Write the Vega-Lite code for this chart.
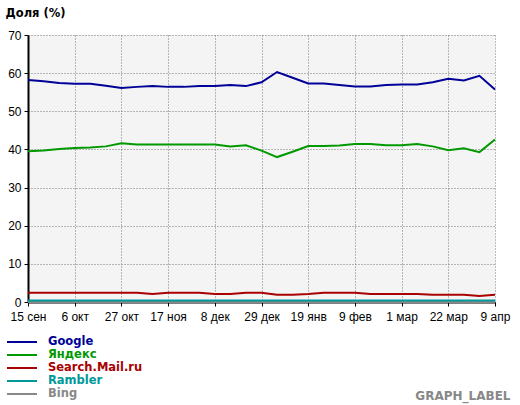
{
  "$schema": "https://vega.github.io/schema/vega-lite/v6.json",
  "width": 467,
  "height": 267,
  "autosize": "none",
  "padding": {"left": 28, "top": 35, "right": 25, "bottom": 103},
  "background": "white",
  "config": {
    "view": {"fill": "#f4f4f4", "stroke": null},
    "font": "Liberation Sans"
  },
  "data": {
    "values": [
      {"w": "15 сен", "Google": 58.2, "Yandex": 39.5, "Mail": 2.4, "Rambler": 0.4, "Bing": 0.0},
      {"w": "22 сен", "Google": 57.9, "Yandex": 39.7, "Mail": 2.4, "Rambler": 0.4, "Bing": 0.0},
      {"w": "29 сен", "Google": 57.4, "Yandex": 40.1, "Mail": 2.4, "Rambler": 0.4, "Bing": 0.0},
      {"w": "6 окт", "Google": 57.2, "Yandex": 40.4, "Mail": 2.4, "Rambler": 0.4, "Bing": 0.0},
      {"w": "13 окт", "Google": 57.2, "Yandex": 40.5, "Mail": 2.4, "Rambler": 0.4, "Bing": 0.0},
      {"w": "20 окт", "Google": 56.7, "Yandex": 40.8, "Mail": 2.4, "Rambler": 0.4, "Bing": 0.0},
      {"w": "27 окт", "Google": 56.1, "Yandex": 41.6, "Mail": 2.4, "Rambler": 0.4, "Bing": 0.0},
      {"w": "3 ноя", "Google": 56.4, "Yandex": 41.3, "Mail": 2.4, "Rambler": 0.4, "Bing": 0.0},
      {"w": "10 ноя", "Google": 56.6, "Yandex": 41.3, "Mail": 2.1, "Rambler": 0.4, "Bing": 0.0},
      {"w": "17 ноя", "Google": 56.4, "Yandex": 41.3, "Mail": 2.4, "Rambler": 0.4, "Bing": 0.0},
      {"w": "24 ноя", "Google": 56.4, "Yandex": 41.3, "Mail": 2.4, "Rambler": 0.4, "Bing": 0.0},
      {"w": "1 дек", "Google": 56.6, "Yandex": 41.3, "Mail": 2.4, "Rambler": 0.4, "Bing": 0.0},
      {"w": "8 дек", "Google": 56.6, "Yandex": 41.3, "Mail": 2.1, "Rambler": 0.4, "Bing": 0.0},
      {"w": "15 дек", "Google": 56.9, "Yandex": 40.8, "Mail": 2.1, "Rambler": 0.4, "Bing": 0.0},
      {"w": "22 дек", "Google": 56.6, "Yandex": 41.1, "Mail": 2.4, "Rambler": 0.4, "Bing": 0.0},
      {"w": "29 дек", "Google": 57.6, "Yandex": 39.7, "Mail": 2.4, "Rambler": 0.4, "Bing": 0.0},
      {"w": "5 янв", "Google": 60.3, "Yandex": 38.0, "Mail": 1.9, "Rambler": 0.4, "Bing": 0.0},
      {"w": "12 янв", "Google": 58.8, "Yandex": 39.4, "Mail": 1.9, "Rambler": 0.4, "Bing": 0.0},
      {"w": "19 янв", "Google": 57.3, "Yandex": 40.9, "Mail": 2.1, "Rambler": 0.4, "Bing": 0.0},
      {"w": "26 янв", "Google": 57.3, "Yandex": 40.9, "Mail": 2.4, "Rambler": 0.4, "Bing": 0.0},
      {"w": "2 фев", "Google": 56.9, "Yandex": 41.0, "Mail": 2.4, "Rambler": 0.4, "Bing": 0.0},
      {"w": "9 фев", "Google": 56.5, "Yandex": 41.4, "Mail": 2.4, "Rambler": 0.4, "Bing": 0.0},
      {"w": "16 фев", "Google": 56.5, "Yandex": 41.4, "Mail": 2.1, "Rambler": 0.4, "Bing": 0.0},
      {"w": "23 фев", "Google": 56.9, "Yandex": 41.1, "Mail": 2.1, "Rambler": 0.4, "Bing": 0.0},
      {"w": "1 мар", "Google": 57.0, "Yandex": 41.1, "Mail": 2.1, "Rambler": 0.4, "Bing": 0.0},
      {"w": "8 мар", "Google": 57.0, "Yandex": 41.4, "Mail": 2.1, "Rambler": 0.4, "Bing": 0.0},
      {"w": "15 мар", "Google": 57.6, "Yandex": 40.8, "Mail": 1.9, "Rambler": 0.4, "Bing": 0.0},
      {"w": "22 мар", "Google": 58.5, "Yandex": 39.8, "Mail": 1.9, "Rambler": 0.4, "Bing": 0.0},
      {"w": "29 мар", "Google": 58.1, "Yandex": 40.3, "Mail": 1.9, "Rambler": 0.4, "Bing": 0.0},
      {"w": "5 апр", "Google": 59.3, "Yandex": 39.3, "Mail": 1.6, "Rambler": 0.4, "Bing": 0.0},
      {"w": "9 апр", "Google": 55.7, "Yandex": 42.6, "Mail": 1.9, "Rambler": 0.4, "Bing": 0.0}
    ]
  },
  "transform": [
    {"fold": ["Bing", "Rambler", "Mail", "Yandex", "Google"], "as": ["engine", "share"]}
  ],
  "mark": {"type": "line", "strokeWidth": 2},
  "encoding": {
    "x": {
      "field": "w",
      "type": "ordinal",
      "sort": null,
      "scale": {"type": "point", "padding": 0},
      "axis": {
        "values": ["15 сен", "6 окт", "27 окт", "17 ноя", "8 дек", "29 дек", "19 янв", "9 фев", "1 мар", "22 мар", "9 апр"],
        "labelAngle": 0,
        "labelFont": "Liberation Sans",
        "labelFontSize": 12,
        "labelColor": "black",
        "labelPadding": 5,
        "tickSize": 4,
        "tickColor": "black",
        "domainColor": "black",
        "domainWidth": 2,
        "grid": true,
        "gridColor": "#777777",
        "gridDash": [1, 2],
        "gridOpacity": 1,
        "title": "GRAPH_LABEL",
        "titleFont": "DejaVu Sans",
        "titleFontWeight": "bold",
        "titleFontSize": 12,
        "titleColor": "#888888",
        "titleAlign": "right",
        "titleBaseline": "alphabetic",
        "titleX": 482,
        "titleY": 97
      }
    },
    "y": {
      "field": "share",
      "type": "quantitative",
      "scale": {"domain": [0, 70], "nice": false},
      "axis": {
        "values": [0, 10, 20, 30, 40, 50, 60, 70],
        "labelFont": "Liberation Sans",
        "labelFontSize": 12,
        "labelColor": "black",
        "labelPadding": 3,
        "tickSize": 4,
        "tickColor": "black",
        "domainColor": "black",
        "domainWidth": 2,
        "grid": true,
        "gridColor": "#777777",
        "gridDash": [1, 2],
        "gridOpacity": 1,
        "title": "Доля (%)",
        "titleFont": "DejaVu Sans",
        "titleFontWeight": "bold",
        "titleFontSize": 11.5,
        "titleColor": "black",
        "titleAngle": 0,
        "titleAlign": "left",
        "titleBaseline": "middle",
        "titleX": -23,
        "titleY": -22
      }
    },
    "color": {
      "field": "engine",
      "type": "nominal",
      "scale": {
        "domain": ["Google", "Yandex", "Mail", "Rambler", "Bing"],
        "range": ["#000099", "#009900", "#aa0000", "#009999", "#888888"]
      },
      "legend": {
        "orient": "none",
        "legendX": -22,
        "legendY": 301,
        "title": null,
        "symbolType": "M-1,0H5",
        "symbolSize": 100,
        "symbolStrokeWidth": 2,
        "labelFont": "DejaVu Sans",
        "labelFontWeight": "bold",
        "labelFontSize": 11.5,
        "labelOffset": 30,
        "rowPadding": 1,
        "padding": 0,
        "labelExpr": "datum.value == 'Yandex' ? 'Яндекс' : datum.value == 'Mail' ? 'Search.Mail.ru' : datum.value",
        "encode": {"labels": {"update": {"fill": {"scale": "color", "field": "value"}}}}
      }
    }
  }
}
